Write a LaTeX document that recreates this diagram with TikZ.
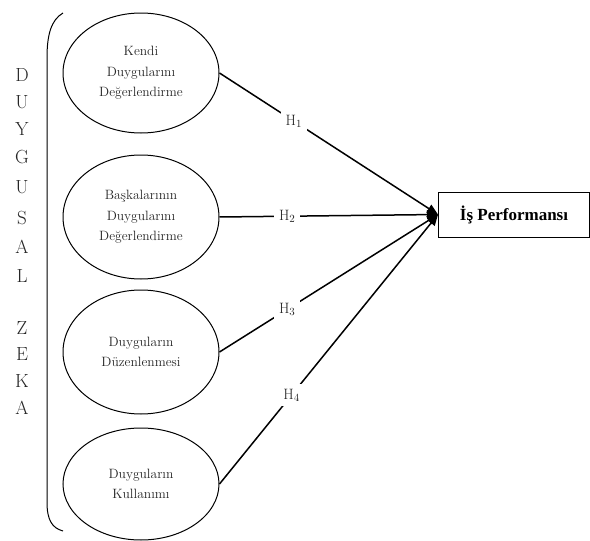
\documentclass[tikz,border=0pt]{standalone}
\usepackage{fontspec}
\newfontfamily\timesfont{Liberation Serif}
\usetikzlibrary{positioning, calc, shapes.geometric, arrows.meta}

\begin{document}
\begin{tikzpicture}[x=1pt, y=-1pt,
    boyut/.style={ellipse, draw, line width=1pt, minimum width=156pt, minimum height=124pt,
      inner sep=0pt, align=center, text=black!85, font=\fontsize{13.5}{20.5}\selectfont},
    harf/.style={inner sep=0pt, text=black!85, font=\fontsize{19}{19}\selectfont},
    hip/.style={fill=white, inner sep=5pt, text=black!85, font=\fontsize{15}{15}\selectfont},
    ok/.style={-{Triangle[length=11pt, width=9pt]}, line width=1.5pt}]
    \useasboundingbox (0,0) rectangle (590,541);

    \foreach \l/\y [count=\i] in {D/75, U/102, Y/129, G/157, U/187, S/218, A/247, L/276,
                                  Z/328, E/354, K/381, A/408}
        \node[harf] (h\i) at (22,\y) {\l};

    \draw[line width=1pt] (63,13) .. controls (51,20) and (47,35) .. (47,58)
        -- (47,502) .. controls (47,520) and (52,528) .. (63,531);

    \node[boyut, minimum height=120pt] (kendi) at (141,73) {Kendi\\Duygularını\\Değerlendirme};
    \node[boyut] (baska) at (141,217) {Başkalarının\\Duygularını\\Değerlendirme};
    \node[boyut] (duzen) at (141,352) {Duyguların\\Düzenlenmesi};
    \node[boyut, minimum height=112pt] (kullan) at (141,484) {Duyguların\\Kullanımı};

    \node[draw, line width=1pt, minimum width=151pt, minimum height=45pt, anchor=west,
          font=\timesfont\bfseries\fontsize{17}{17}\selectfont] (is) at (438,214.5) {İş Performansı};

    \draw[ok] (kendi.east) -- node[hip, pos=0.34] {H$_1$} (is.west);
    \draw[ok] (baska.east) -- node[hip, pos=0.31] {H$_2$} (is.west);
    \draw[ok] (duzen.east) -- node[hip, pos=0.31] {H$_3$} (is.west);
    \draw[ok] (kullan.east) -- node[hip, pos=0.33] {H$_4$} (is.west);
\end{tikzpicture}
\end{document}
